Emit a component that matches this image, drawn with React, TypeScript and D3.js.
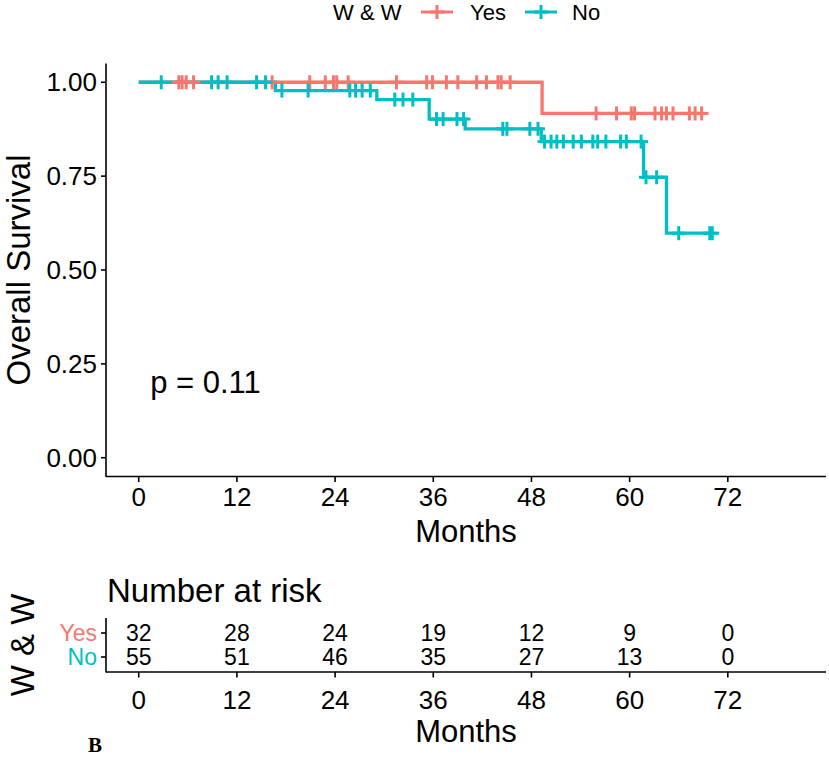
import * as d3 from "d3";

// Kaplan-Meier steps (months, survival)
const yesTimes = [0, 49.3];
const yesSurv = [1, 0.917];
const yesEnd = 68.8;
const yesCensor = [
  4.9, 5.3, 5.8, 6.7, 16.3, 20.9, 22.8, 23.8, 24.2, 25.6, 31.5, 35.2, 35.9,
  37.6, 39.0, 41.3, 42.5, 43.9, 44.3, 45.4, 55.9, 58.4, 60.2, 60.6, 63.1,
  63.9, 64.5, 65.3, 67.3, 68.0, 68.8,
];

const noTimes = [0, 16.7, 29.1, 35.5, 39.9, 49.2, 61.7, 64.5];
const noSurv = [1, 0.978, 0.954, 0.902, 0.876, 0.842, 0.747, 0.598];
const noEnd = 70.1;
const noCensor = [
  2.75, 8.9, 9.7, 10.8, 14.4, 15.5, 17.5, 20.7, 25.8, 26.5, 27.3, 28.3, 31.3,
  32.3, 33.5, 36.4, 37.2, 38.9, 39.7, 44.5, 45.0, 47.8, 48.8, 49.6, 50.4,
  51.1, 51.9, 53.1, 54.1, 55.5, 56.1, 57.1, 58.9, 59.6, 61.4, 62.0, 63.3,
  66.0, 69.8, 70.1,
];

const xTicks = [0, 12, 24, 36, 48, 60, 72];
const yTicks = [0, 0.25, 0.5, 0.75, 1];
const groups = ["Yes", "No"];
const riskYes = [32, 28, 24, 19, 12, 9, 0];
const riskNo = [55, 51, 46, 35, 27, 13, 0];
const pText = "p = 0.11";

const RED = "#F8766D";
const TEAL = "#00BFC4";
const FONT = "'Liberation Sans', Arial, sans-serif";

function survAt(times: number[], surv: number[], t: number) {
  let s = surv[0];
  for (let i = 0; i < times.length; i++) if (times[i] <= t) s = surv[i];
  return s;
}

function Plus({ x, y, color, size = 7 }: { x: number; y: number; color: string; size?: number }) {
  return (
    <g stroke={color} strokeWidth={3}>
      <line x1={x - size} x2={x + size} y1={y} y2={y} />
      <line x1={x} x2={x} y1={y - size} y2={y + size} />
    </g>
  );
}

export default function App() {
  const W = 829;
  const H = 762;
  const left = 106;
  const right = 826;

  const x = d3.scaleLinear().domain([-4, 84]).range([left, right]);
  const y = d3.scaleLinear().domain([-0.05, 1.05]).range([476.5, 63.5]);
  // risk table rows (discrete axis)
  const yRisk = d3.scalePoint().domain(groups).range([633, 657]);

  const line = d3
    .line<[number, number]>()
    .x((d) => x(d[0]))
    .y((d) => y(d[1]))
    .curve(d3.curveStepAfter);

  const curve = (times: number[], surv: number[], end: number) => {
    const pts: [number, number][] = times.map((t, i) => [t, surv[i]]);
    pts.push([end, surv[surv.length - 1]]);
    return line(pts) || "";
  };

  const series = [
    { name: "Yes", times: yesTimes, surv: yesSurv, end: yesEnd, censor: yesCensor, color: RED },
    { name: "No", times: noTimes, surv: noSurv, end: noEnd, censor: noCensor, color: TEAL },
  ];

  const tickFont = 26;
  const riskFont = 23;

  return (
    <svg
      width={W}
      height={H}
      style={{ position: "absolute", left: 0, top: 0, background: "white" }}
      fontFamily={FONT}
    >
      {/* legend */}
      <g fontSize={22} dominantBaseline="central">
        <text x={333} y={12}>W &amp; W</text>
        <line x1={421} x2={453} y1={12} y2={12} stroke={RED} strokeWidth={3} />
        <Plus x={437} y={12} color={RED} />
        <text x={470} y={12}>Yes</text>
        <line x1={525} x2={557} y1={12} y2={12} stroke={TEAL} strokeWidth={3} />
        <Plus x={541} y={12} color={TEAL} />
        <text x={572} y={12}>No</text>
      </g>

      {/* main panel axes */}
      <g stroke="black" strokeWidth={1.6}>
        <line x1={left} x2={left} y1={63.5} y2={477} />
        <line x1={left} x2={right} y1={476.5} y2={476.5} />
        {yTicks.map((t) => (
          <line key={t} x1={left - 5} x2={left} y1={y(t)} y2={y(t)} />
        ))}
        {xTicks.map((t) => (
          <line key={t} x1={x(t)} x2={x(t)} y1={476.5} y2={482} />
        ))}
      </g>
      <g fontSize={tickFont} fill="black">
        {yTicks.map((t) => (
          <text key={t} x={97} y={y(t)} textAnchor="end" dominantBaseline="central">
            {d3.format(".2f")(t)}
          </text>
        ))}
        {xTicks.map((t) => (
          <text key={t} x={x(t)} y={497} textAnchor="middle" dominantBaseline="central">
            {t}
          </text>
        ))}
      </g>
      <text x={466} y={531} fontSize={31} textAnchor="middle" dominantBaseline="central">
        Months
      </text>
      <text
        transform={`translate(18,${(63.5 + 476.5) / 2}) rotate(-90)`}
        fontSize={33}
        textAnchor="middle"
        dominantBaseline="central"
      >
        Overall Survival
      </text>

      {/* curves */}
      {series.map((s) => (
        <path key={s.name} d={curve(s.times, s.surv, s.end)} fill="none" stroke={s.color} strokeWidth={3.3} />
      ))}
      {series.map((s) =>
        s.censor.map((t, i) => (
          <Plus key={s.name + i} x={x(t)} y={y(survAt(s.times, s.surv, t))} color={s.color} />
        ))
      )}

      <text x={x(1.4)} y={y(0.2)} fontSize={31} dominantBaseline="central">
        {pText}
      </text>

      {/* risk table */}
      <text x={107} y={590} fontSize={33} dominantBaseline="central">
        Number at risk
      </text>
      <g stroke="black" strokeWidth={1.6}>
        <line x1={left} x2={left} y1={618} y2={672.5} />
        <line x1={left} x2={right} y1={672} y2={672} />
        {groups.map((g) => (
          <line key={g} x1={left - 5} x2={left} y1={yRisk(g)!} y2={yRisk(g)!} />
        ))}
        {xTicks.map((t) => (
          <line key={t} x1={x(t)} x2={x(t)} y1={672} y2={677.5} />
        ))}
      </g>
      <g fontSize={riskFont} dominantBaseline="central">
        {groups.map((g) => (
          <text key={g} x={97} y={yRisk(g)!} textAnchor="end" fill={g === "Yes" ? RED : TEAL}>
            {g}
          </text>
        ))}
        {xTicks.map((t, i) => (
          <text key={"y" + t} x={x(t)} y={yRisk("Yes")!} textAnchor="middle">
            {riskYes[i]}
          </text>
        ))}
        {xTicks.map((t, i) => (
          <text key={"n" + t} x={x(t)} y={yRisk("No")!} textAnchor="middle">
            {riskNo[i]}
          </text>
        ))}
      </g>
      <g fontSize={tickFont} dominantBaseline="central">
        {xTicks.map((t) => (
          <text key={"t" + t} x={x(t)} y={700} textAnchor="middle">
            {t}
          </text>
        ))}
      </g>
      <text x={466} y={731} fontSize={31} textAnchor="middle" dominantBaseline="central">
        Months
      </text>
      <text
        transform={`translate(22,${645}) rotate(-90)`}
        fontSize={33}
        textAnchor="middle"
        dominantBaseline="central"
      >
        W &amp; W
      </text>
      <text x={88} y={752} fontSize={21} fontWeight="bold" fontFamily="'Liberation Serif', 'Times New Roman', serif">
        B
      </text>
    </svg>
  );
}
